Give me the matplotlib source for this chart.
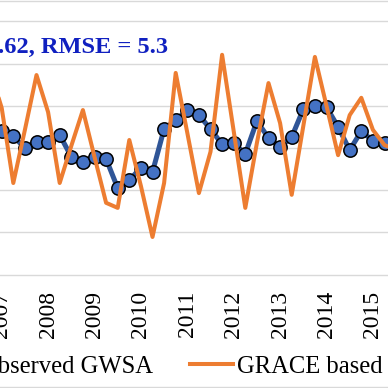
import numpy as np
import matplotlib
matplotlib.use("Agg")
import matplotlib.pyplot as plt
from matplotlib.patches import Rectangle

###### DATA (quarterly, cm) ##########
quarter_pos = np.arange(-1, 35)          # quarter index, 0 = 2007 Q1
observed_gwsa = [4.2, 4.0, 2.8, 0.0, 1.4, 1.4, 3.1, -2.1, -3.3, -2.1, -2.6,
                 -9.5, -7.6, -4.7, -5.7, 4.5, 6.6, 9.0, 7.8, 4.5, 0.9,
                 1.2, -1.4, 6.4, 2.4, 0.2, 2.6, 9.2, 10.0, 9.7, 5.0,
                 -0.5, 4.0, 1.7, 1.2, 1.0]
grace_gwsa = [18.5, 9.5, -8.3, 4.3, 17.3, 8.5, -8.3, 0.5, 9.0, -2.1, -13.0,
              -14.2, 1.9, -9.0, -21.1, -8.3, 17.8, 3.6, -10.7, -0.9, 22.1,
              4.0, -14.2, 1.2, 15.4, 5.9, -11.1, 5.2, 21.6, 10.0, -1.7,
              7.8, 11.9, 4.3, 0.7, -0.5]
years = [2007, 2008, 2009, 2010, 2011, 2012, 2013, 2014, 2015]
stats_text = "R = 0.62, RMSE = 5.3"
###########################

W = H = 388.0
x_time = 2007 + quarter_pos * 0.25

fig = plt.figure(figsize=(3.88, 3.88), dpi=100)

# chart area border (cropped left/right)
fig.add_artist(Rectangle((-0.1, 1 / H), 1.2, 386 / H, transform=fig.transFigure,
                         fill=False, edgecolor='#D9D9D9', lw=1.0))

# axes placed so the visible crop matches the reference
px_left, px_right = -40.0, 430.0
y_top_px, y_bot_px = 148 - 31 * 4.217, 148 + 31 * 4.217
ax = fig.add_axes([px_left / W, (H - y_bot_px) / H,
                   (px_right - px_left) / W, (y_bot_px - y_top_px) / H])
ax.set_xlim(2007 + (px_left - 1.7) / 11.6 * 0.25,
            2007 + (px_right - 1.7) / 11.6 * 0.25)
ax.set_ylim(-31, 31)
ax.set_yticks(np.arange(-30, 31, 10))
ax.yaxis.grid(True, color='#D9D9D9', lw=1.0)
ax.set_axisbelow(True)
for s in ax.spines.values():
    s.set_visible(False)
ax.tick_params(axis='y', left=False, labelleft=False)
ax.set_xticks(years)
ax.set_xticklabels([str(y) for y in years], rotation=90,
                   fontfamily='Liberation Serif', fontsize=17)
ax.tick_params(axis='x', length=0, pad=8.8)

l1, = ax.plot(x_time, observed_gwsa, color='#2F5597', lw=3.6, marker='o',
              markersize=9.6, markerfacecolor='#4472C4',
              markeredgecolor='black', markeredgewidth=1.1, zorder=2)
l2, = ax.plot(x_time, grace_gwsa, color='#ED7D31', lw=2.9, zorder=3)

fig.text(168 / W, (H - 53) / H, stats_text, ha='right', va='baseline',
         fontfamily='Liberation Serif', fontweight='bold', fontsize=17.6,
         color='#1020C0')

fig.legend([l1, l2], ['Observed GWSA', 'GRACE based GWSA'], ncol=2,
           loc='center left', bbox_to_anchor=(-67 / W, 21.5 / H),
           frameon=False, borderpad=0, borderaxespad=0,
           handlelength=1.75, handletextpad=0.16, columnspacing=1.5,
           prop={'family': 'Liberation Serif', 'size': 17.7})

fig.savefig('out.png', dpi=100)
